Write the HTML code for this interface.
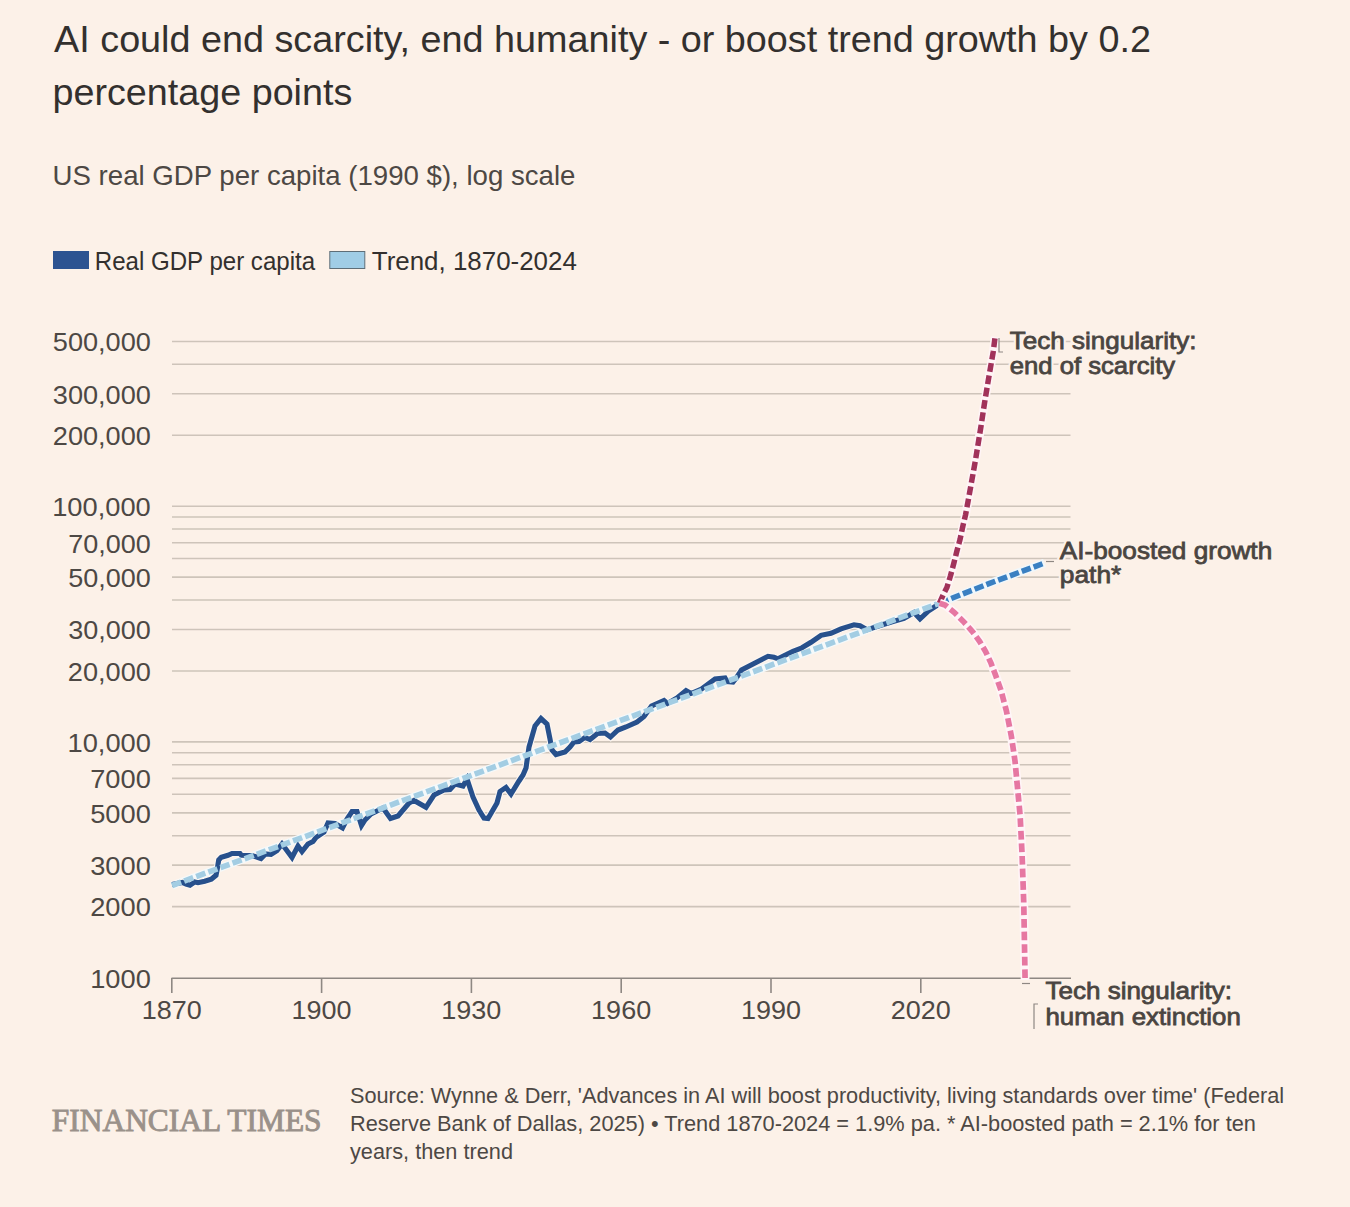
<!DOCTYPE html>
<html><head><meta charset="utf-8"><title>FT chart</title>
<style>html,body{margin:0;padding:0;background:#FCF1E8;} svg{display:block;}</style></head>
<body><svg width="1350" height="1207" viewBox="0 0 1350 1207">
<rect width="1350" height="1207" fill="#FCF1E8"/>
<text x="54.1" y="51.6" font-family="&quot;Liberation Sans&quot;, sans-serif" font-size="37.5" font-weight="normal" fill="#33302E" textLength="1096.8" lengthAdjust="spacingAndGlyphs" >AI could end scarcity, end humanity - or boost trend growth by 0.2</text>
<text x="52.5" y="105.2" font-family="&quot;Liberation Sans&quot;, sans-serif" font-size="37.5" font-weight="normal" fill="#33302E" textLength="299.8" lengthAdjust="spacingAndGlyphs" >percentage points</text>
<text x="52.6" y="184.6" font-family="&quot;Liberation Sans&quot;, sans-serif" font-size="27.5" font-weight="normal" fill="#4D4844" textLength="522.8" lengthAdjust="spacingAndGlyphs" >US real GDP per capita (1990 $), log scale</text>
<rect x="53" y="251" width="36" height="18" fill="#2C5391"/>
<text x="94.8" y="269.6" font-family="&quot;Liberation Sans&quot;, sans-serif" font-size="25" font-weight="normal" fill="#33302E" textLength="220.3" lengthAdjust="spacingAndGlyphs" >Real GDP per capita</text>
<rect x="329.8" y="251.5" width="35" height="17" fill="#A0CDE6" stroke="#5E6E78" stroke-width="1"/>
<text x="371.8" y="269.6" font-family="&quot;Liberation Sans&quot;, sans-serif" font-size="25" font-weight="normal" fill="#33302E" textLength="205.0" lengthAdjust="spacingAndGlyphs" >Trend, 1870-2024</text>
<line x1="172" y1="906.65" x2="1070.5" y2="906.65" stroke="#CEC4BA" stroke-width="1.6"/>
<line x1="172" y1="865.14" x2="1070.5" y2="865.14" stroke="#CEC4BA" stroke-width="1.6"/>
<line x1="172" y1="835.69" x2="1070.5" y2="835.69" stroke="#CEC4BA" stroke-width="1.6"/>
<line x1="172" y1="812.85" x2="1070.5" y2="812.85" stroke="#CEC4BA" stroke-width="1.6"/>
<line x1="172" y1="794.19" x2="1070.5" y2="794.19" stroke="#CEC4BA" stroke-width="1.6"/>
<line x1="172" y1="778.41" x2="1070.5" y2="778.41" stroke="#CEC4BA" stroke-width="1.6"/>
<line x1="172" y1="764.74" x2="1070.5" y2="764.74" stroke="#CEC4BA" stroke-width="1.6"/>
<line x1="172" y1="752.69" x2="1070.5" y2="752.69" stroke="#CEC4BA" stroke-width="1.6"/>
<line x1="172" y1="741.90" x2="1070.5" y2="741.90" stroke="#CEC4BA" stroke-width="1.6"/>
<line x1="172" y1="670.95" x2="1070.5" y2="670.95" stroke="#CEC4BA" stroke-width="1.6"/>
<line x1="172" y1="629.44" x2="1070.5" y2="629.44" stroke="#CEC4BA" stroke-width="1.6"/>
<line x1="172" y1="599.99" x2="1070.5" y2="599.99" stroke="#CEC4BA" stroke-width="1.6"/>
<line x1="172" y1="577.15" x2="1070.5" y2="577.15" stroke="#CEC4BA" stroke-width="1.6"/>
<line x1="172" y1="558.49" x2="1070.5" y2="558.49" stroke="#CEC4BA" stroke-width="1.6"/>
<line x1="172" y1="542.71" x2="1070.5" y2="542.71" stroke="#CEC4BA" stroke-width="1.6"/>
<line x1="172" y1="529.04" x2="1070.5" y2="529.04" stroke="#CEC4BA" stroke-width="1.6"/>
<line x1="172" y1="516.99" x2="1070.5" y2="516.99" stroke="#CEC4BA" stroke-width="1.6"/>
<line x1="172" y1="506.20" x2="1070.5" y2="506.20" stroke="#CEC4BA" stroke-width="1.6"/>
<line x1="172" y1="435.25" x2="1070.5" y2="435.25" stroke="#CEC4BA" stroke-width="1.6"/>
<line x1="172" y1="393.74" x2="1070.5" y2="393.74" stroke="#CEC4BA" stroke-width="1.6"/>
<line x1="172" y1="364.29" x2="1070.5" y2="364.29" stroke="#CEC4BA" stroke-width="1.6"/>
<line x1="172" y1="341.45" x2="1070.5" y2="341.45" stroke="#CEC4BA" stroke-width="1.6"/>
<line x1="171.5" y1="978.3" x2="1071" y2="978.3" stroke="#8E8883" stroke-width="1.6"/>
<line x1="171.8" y1="978" x2="171.8" y2="993" stroke="#8E8883" stroke-width="1.6"/>
<line x1="321.6" y1="978" x2="321.6" y2="993" stroke="#8E8883" stroke-width="1.6"/>
<line x1="471.4" y1="978" x2="471.4" y2="993" stroke="#8E8883" stroke-width="1.6"/>
<line x1="621.2" y1="978" x2="621.2" y2="993" stroke="#8E8883" stroke-width="1.6"/>
<line x1="771.0" y1="978" x2="771.0" y2="993" stroke="#8E8883" stroke-width="1.6"/>
<line x1="920.8" y1="978" x2="920.8" y2="993" stroke="#8E8883" stroke-width="1.6"/>
<text x="52.8" y="351.3" font-family="&quot;Liberation Sans&quot;, sans-serif" font-size="25" font-weight="normal" fill="#4D4844" textLength="98.1" lengthAdjust="spacingAndGlyphs" >500,000</text>
<text x="52.8" y="403.5" font-family="&quot;Liberation Sans&quot;, sans-serif" font-size="25" font-weight="normal" fill="#4D4844" textLength="98.1" lengthAdjust="spacingAndGlyphs" >300,000</text>
<text x="52.8" y="445.0" font-family="&quot;Liberation Sans&quot;, sans-serif" font-size="25" font-weight="normal" fill="#4D4844" textLength="98.1" lengthAdjust="spacingAndGlyphs" >200,000</text>
<text x="52.2" y="516.0" font-family="&quot;Liberation Sans&quot;, sans-serif" font-size="25" font-weight="normal" fill="#4D4844" textLength="98.6" lengthAdjust="spacingAndGlyphs" >100,000</text>
<text x="68.2" y="552.5" font-family="&quot;Liberation Sans&quot;, sans-serif" font-size="25" font-weight="normal" fill="#4D4844" textLength="82.6" lengthAdjust="spacingAndGlyphs" >70,000</text>
<text x="68.2" y="587.0" font-family="&quot;Liberation Sans&quot;, sans-serif" font-size="25" font-weight="normal" fill="#4D4844" textLength="82.6" lengthAdjust="spacingAndGlyphs" >50,000</text>
<text x="68.2" y="639.2" font-family="&quot;Liberation Sans&quot;, sans-serif" font-size="25" font-weight="normal" fill="#4D4844" textLength="82.6" lengthAdjust="spacingAndGlyphs" >30,000</text>
<text x="67.8" y="680.7" font-family="&quot;Liberation Sans&quot;, sans-serif" font-size="25" font-weight="normal" fill="#4D4844" textLength="83.1" lengthAdjust="spacingAndGlyphs" >20,000</text>
<text x="67.5" y="751.7" font-family="&quot;Liberation Sans&quot;, sans-serif" font-size="25" font-weight="normal" fill="#4D4844" textLength="83.4" lengthAdjust="spacingAndGlyphs" >10,000</text>
<text x="90.2" y="788.2" font-family="&quot;Liberation Sans&quot;, sans-serif" font-size="25" font-weight="normal" fill="#4D4844" textLength="60.6" lengthAdjust="spacingAndGlyphs" >7000</text>
<text x="90.2" y="822.7" font-family="&quot;Liberation Sans&quot;, sans-serif" font-size="25" font-weight="normal" fill="#4D4844" textLength="60.6" lengthAdjust="spacingAndGlyphs" >5000</text>
<text x="90.2" y="874.9" font-family="&quot;Liberation Sans&quot;, sans-serif" font-size="25" font-weight="normal" fill="#4D4844" textLength="60.6" lengthAdjust="spacingAndGlyphs" >3000</text>
<text x="90.2" y="916.4" font-family="&quot;Liberation Sans&quot;, sans-serif" font-size="25" font-weight="normal" fill="#4D4844" textLength="60.6" lengthAdjust="spacingAndGlyphs" >2000</text>
<text x="90.2" y="988.0" font-family="&quot;Liberation Sans&quot;, sans-serif" font-size="25" font-weight="normal" fill="#4D4844" textLength="60.6" lengthAdjust="spacingAndGlyphs" >1000</text>
<text x="141.8" y="1018.9" font-family="&quot;Liberation Sans&quot;, sans-serif" font-size="25" font-weight="normal" fill="#4D4844" textLength="60.1" lengthAdjust="spacingAndGlyphs" >1870</text>
<text x="291.5" y="1018.9" font-family="&quot;Liberation Sans&quot;, sans-serif" font-size="25" font-weight="normal" fill="#4D4844" textLength="60.1" lengthAdjust="spacingAndGlyphs" >1900</text>
<text x="441.3" y="1018.9" font-family="&quot;Liberation Sans&quot;, sans-serif" font-size="25" font-weight="normal" fill="#4D4844" textLength="60.1" lengthAdjust="spacingAndGlyphs" >1930</text>
<text x="591.1" y="1018.9" font-family="&quot;Liberation Sans&quot;, sans-serif" font-size="25" font-weight="normal" fill="#4D4844" textLength="60.1" lengthAdjust="spacingAndGlyphs" >1960</text>
<text x="740.9" y="1018.9" font-family="&quot;Liberation Sans&quot;, sans-serif" font-size="25" font-weight="normal" fill="#4D4844" textLength="60.1" lengthAdjust="spacingAndGlyphs" >1990</text>
<text x="890.7" y="1018.9" font-family="&quot;Liberation Sans&quot;, sans-serif" font-size="25" font-weight="normal" fill="#4D4844" textLength="60.1" lengthAdjust="spacingAndGlyphs" >2020</text>
<line x1="172" y1="885.5" x2="939.5" y2="603.2" stroke="#F5F9FA" stroke-width="8"/>
<polyline points="172,884.5 177,883.5 182.3,882.5 186,884 190,885.3 194.7,882 198,882.7 204.7,881.3 211.3,879.3 216,875.3 217.3,868.7 218.7,860 221.3,857.3 228,855.3 232,853.5 240,853.5 241.5,855.3 252,855.5 258,857.5 261,858.5 265.5,854 271,854.5 277,850.5 282,844 285,848 292,857.5 298,846 302,851.5 308,844 313,841.5 316,837.5 324,832 328,823 335,823.5 342.5,828 347,819 352,811.5 357,811.5 361.5,825.5 365,820 371,814 383,808 390.5,818.5 398,816 409,803 414,800.5 426,807.3 434,795 444,790 450,789.5 455,784 463,786 467,779 473,797 479,810 484,818 488,818.5 497,803 500,791.5 506,787.5 511,794 519,781 523,775 526,768 529,747 535,726 541,718.5 547,724 550,739 552,750 556,754.5 565,752 570,747 574,742 579,741.5 585,737.5 590,739.5 597.5,733.5 605,733 610.5,737 618,730 626,727 637,722 644,716.5 651.5,706 664,700.5 667.5,703.5 677,698 686,690.5 691,693.5 701.5,689 715,679 725,678 727,681.5 733,682 737,677 741.5,670 756,662.5 768,656.3 774,657.3 778,658.8 784,655.8 793,651.3 802,647.8 811,642.3 821,635.3 831,633.3 841,628.8 854,624.8 860,625.8 867,629.8 880,625.5 893,621.5 904,618.5 914,612.5 920,619 929,610.5 939,604" fill="none" stroke="#FDF7F2" stroke-width="7.2" stroke-linejoin="miter" stroke-miterlimit="3"/>
<polyline points="172,884.5 177,883.5 182.3,882.5 186,884 190,885.3 194.7,882 198,882.7 204.7,881.3 211.3,879.3 216,875.3 217.3,868.7 218.7,860 221.3,857.3 228,855.3 232,853.5 240,853.5 241.5,855.3 252,855.5 258,857.5 261,858.5 265.5,854 271,854.5 277,850.5 282,844 285,848 292,857.5 298,846 302,851.5 308,844 313,841.5 316,837.5 324,832 328,823 335,823.5 342.5,828 347,819 352,811.5 357,811.5 361.5,825.5 365,820 371,814 383,808 390.5,818.5 398,816 409,803 414,800.5 426,807.3 434,795 444,790 450,789.5 455,784 463,786 467,779 473,797 479,810 484,818 488,818.5 497,803 500,791.5 506,787.5 511,794 519,781 523,775 526,768 529,747 535,726 541,718.5 547,724 550,739 552,750 556,754.5 565,752 570,747 574,742 579,741.5 585,737.5 590,739.5 597.5,733.5 605,733 610.5,737 618,730 626,727 637,722 644,716.5 651.5,706 664,700.5 667.5,703.5 677,698 686,690.5 691,693.5 701.5,689 715,679 725,678 727,681.5 733,682 737,677 741.5,670 756,662.5 768,656.3 774,657.3 778,658.8 784,655.8 793,651.3 802,647.8 811,642.3 821,635.3 831,633.3 841,628.8 854,624.8 860,625.8 867,629.8 880,625.5 893,621.5 904,618.5 914,612.5 920,619 929,610.5 939,604" fill="none" stroke="#27508C" stroke-width="5.1" stroke-linejoin="miter" stroke-miterlimit="3"/>
<line x1="172" y1="885.5" x2="939.5" y2="603.2" stroke="#A3CDE3" stroke-width="5.6" stroke-dasharray="9.7 3.2"/>
<path d="M939.5,603.2 L989.5,583.4 L1044.5,563.0" fill="none" stroke="#F0F7FB" stroke-width="8.4"/>
<path d="M939.5,603.2 L989.5,583.4 L1044.5,563.0" fill="none" stroke="#3A80C2" stroke-width="5.5" stroke-dasharray="9.5 3.1"/>
<path d="M939.5,603.2 L943.2,594.8 L946.9,587.5 L950.5,575.7 L953.7,563.8 L956.9,551.0 L960.1,539.2 L962.8,526.4 L965.6,514.6 L967.8,502.7 L975.5,460.0 L981.0,426.2 L984.6,402.5 L988.7,377.9 L993.3,351.4 L995.1,336.9" fill="none" stroke="#FFF4F6" stroke-width="8.6"/>
<path d="M939.5,603.2 L943.2,594.8 L946.9,587.5 L950.5,575.7 L953.7,563.8 L956.9,551.0 L960.1,539.2 L962.8,526.4 L965.6,514.6 L967.8,502.7 L975.5,460.0 L981.0,426.2 L984.6,402.5 L988.7,377.9 L993.3,351.4 L995.1,336.9" fill="none" stroke="#A1325A" stroke-width="5.5" stroke-dasharray="8.8 3.7"/>
<path d="M939.5,603.2 L945.0,605.0 L954.1,612.3 L963.3,621.4 L972.4,631.5 L979.7,641.5 L985.6,651.5 L991.1,663.4 L995.6,675.2 L1000.9,690.0 L1006.4,710.9 L1011.4,736.4 L1015.0,761.0 L1017.3,785.6 L1020.1,815.3 L1022.1,855.0 L1023.8,904.8 L1025.1,980.0" fill="none" stroke="#FFF5F8" stroke-width="8.8"/>
<path d="M939.5,603.2 L945.0,605.0 L954.1,612.3 L963.3,621.4 L972.4,631.5 L979.7,641.5 L985.6,651.5 L991.1,663.4 L995.6,675.2 L1000.9,690.0 L1006.4,710.9 L1011.4,736.4 L1015.0,761.0 L1017.3,785.6 L1020.1,815.3 L1022.1,855.0 L1023.8,904.8 L1025.1,980.0" fill="none" stroke="#E677A2" stroke-width="5.7" stroke-dasharray="8.7 3.9"/>
<path d="M999,338 L999,352 L1003,352" fill="none" stroke="#8E8883" stroke-width="1.2"/>
<path d="M1038,1004 L1034,1004 L1034,1029" fill="none" stroke="#8E8883" stroke-width="1.2"/>
<line x1="1022" y1="983.5" x2="1030" y2="983.5" stroke="#8E8883" stroke-width="1.2"/>
<line x1="1046" y1="561.5" x2="1054" y2="561.5" stroke="#8E8883" stroke-width="1.2"/>
<text x="1009.7" y="348.8" font-family="&quot;Liberation Sans&quot;, sans-serif" font-size="24.5" font-weight="normal" fill="#FCF1E8" textLength="186.8" lengthAdjust="spacingAndGlyphs" stroke="#FCF1E8" stroke-width="5" stroke-linejoin="round">Tech singularity:</text>
<text x="1009.7" y="348.8" font-family="&quot;Liberation Sans&quot;, sans-serif" font-size="24.5" font-weight="normal" fill="#4A4541" textLength="186.8" lengthAdjust="spacingAndGlyphs" stroke="#4A4541" stroke-width="0.8">Tech singularity:</text>
<text x="1009.7" y="374.4" font-family="&quot;Liberation Sans&quot;, sans-serif" font-size="24.5" font-weight="normal" fill="#FCF1E8" textLength="165.5" lengthAdjust="spacingAndGlyphs" stroke="#FCF1E8" stroke-width="5" stroke-linejoin="round">end of scarcity</text>
<text x="1009.7" y="374.4" font-family="&quot;Liberation Sans&quot;, sans-serif" font-size="24.5" font-weight="normal" fill="#4A4541" textLength="165.5" lengthAdjust="spacingAndGlyphs" stroke="#4A4541" stroke-width="0.8">end of scarcity</text>
<text x="1059.8" y="558.9" font-family="&quot;Liberation Sans&quot;, sans-serif" font-size="24.5" font-weight="normal" fill="#FCF1E8" textLength="212.4" lengthAdjust="spacingAndGlyphs" stroke="#FCF1E8" stroke-width="5" stroke-linejoin="round">AI-boosted growth</text>
<text x="1059.8" y="558.9" font-family="&quot;Liberation Sans&quot;, sans-serif" font-size="24.5" font-weight="normal" fill="#4A4541" textLength="212.4" lengthAdjust="spacingAndGlyphs" stroke="#4A4541" stroke-width="0.8">AI-boosted growth</text>
<text x="1059.8" y="583.3" font-family="&quot;Liberation Sans&quot;, sans-serif" font-size="24.5" font-weight="normal" fill="#FCF1E8" textLength="61.5" lengthAdjust="spacingAndGlyphs" stroke="#FCF1E8" stroke-width="5" stroke-linejoin="round">path*</text>
<text x="1059.8" y="583.3" font-family="&quot;Liberation Sans&quot;, sans-serif" font-size="24.5" font-weight="normal" fill="#4A4541" textLength="61.5" lengthAdjust="spacingAndGlyphs" stroke="#4A4541" stroke-width="0.8">path*</text>
<text x="1045.5" y="999.3" font-family="&quot;Liberation Sans&quot;, sans-serif" font-size="24.5" font-weight="normal" fill="#FCF1E8" textLength="186.4" lengthAdjust="spacingAndGlyphs" stroke="#FCF1E8" stroke-width="5" stroke-linejoin="round">Tech singularity:</text>
<text x="1045.5" y="999.3" font-family="&quot;Liberation Sans&quot;, sans-serif" font-size="24.5" font-weight="normal" fill="#4A4541" textLength="186.4" lengthAdjust="spacingAndGlyphs" stroke="#4A4541" stroke-width="0.8">Tech singularity:</text>
<text x="1045.5" y="1025.0" font-family="&quot;Liberation Sans&quot;, sans-serif" font-size="24.5" font-weight="normal" fill="#FCF1E8" textLength="195.3" lengthAdjust="spacingAndGlyphs" stroke="#FCF1E8" stroke-width="5" stroke-linejoin="round">human extinction</text>
<text x="1045.5" y="1025.0" font-family="&quot;Liberation Sans&quot;, sans-serif" font-size="24.5" font-weight="normal" fill="#4A4541" textLength="195.3" lengthAdjust="spacingAndGlyphs" stroke="#4A4541" stroke-width="0.8">human extinction</text>
<text x="51.8" y="1130.7" font-family="&quot;Liberation Serif&quot;, serif" font-size="31" font-weight="normal" fill="#9A918A" textLength="269.8" lengthAdjust="spacingAndGlyphs" stroke="#9A918A" stroke-width="0.9">FINANCIAL TIMES</text>
<text x="350.0" y="1102.7" font-family="&quot;Liberation Sans&quot;, sans-serif" font-size="21.7" font-weight="normal" fill="#4D4844" textLength="934.1" lengthAdjust="spacingAndGlyphs" >Source: Wynne &amp; Derr, 'Advances in AI will boost productivity, living standards over time' (Federal</text>
<text x="350.0" y="1130.9" font-family="&quot;Liberation Sans&quot;, sans-serif" font-size="21.7" font-weight="normal" fill="#4D4844" textLength="905.9" lengthAdjust="spacingAndGlyphs" >Reserve Bank of Dallas, 2025) • Trend 1870-2024 = 1.9% pa. * AI-boosted path = 2.1% for ten</text>
<text x="350.0" y="1158.9" font-family="&quot;Liberation Sans&quot;, sans-serif" font-size="21.7" font-weight="normal" fill="#4D4844" textLength="163.0" lengthAdjust="spacingAndGlyphs" >years, then trend</text>
</svg></body></html>
